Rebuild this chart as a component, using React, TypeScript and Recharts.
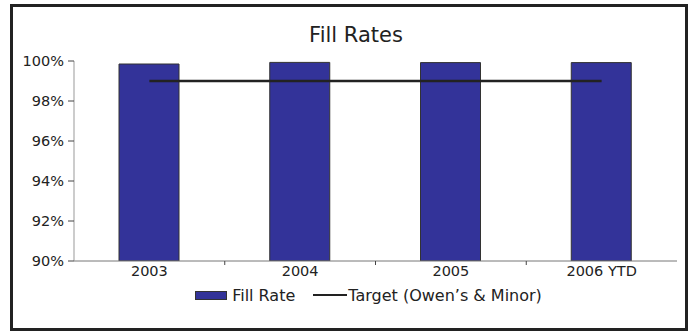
import * as React from "react"
import {
  ComposedChart,
  Bar,
  Line,
  XAxis,
  YAxis,
  Legend,
} from "recharts"

// values, in percent
const years = ["2003", "2004", "2005", "2006 YTD"]
const fillRate = [99.85, 99.93, 99.92, 99.92]
const target = [99.0, 99.0, 99.0, 99.0]
const yTicks = [90, 92, 94, 96, 98, 100]

const data = years.map((year, i) => ({
  year,
  fillRate: fillRate[i],
  target: target[i],
}))

const FONT = "'DejaVu Sans', sans-serif"
const BAR_COLOR = "#333399"
const INK = "#222222"

const CHART_W = 693
const CHART_H = 331
const MARGIN = { top: 61, right: 16, left: 10, bottom: 26 }
const Y_AXIS_W = 64
const BAND = (CHART_W - MARGIN.left - MARGIN.right - Y_AXIS_W) / years.length

// x tick: label at the band centre plus a small tick mark at the band's left edge
const YearTick = (props: any) => {
  const { x, y, payload, index } = props
  return (
    <g>
      {index > 0 && (
        <line x1={x - BAND / 2} x2={x - BAND / 2} y1={y} y2={y + 4} stroke="#444" strokeWidth={1} />
      )}
      <text x={x} y={y + 15} textAnchor="middle" fill={INK} fontSize={14.5} fontFamily={FONT}>
        {payload.value}
      </text>
    </g>
  )
}

const renderLegend = (props: any) => {
  const { payload = [] } = props
  return (
    <div
      style={{
        display: "flex",
        justifyContent: "center",
        alignItems: "center",
        height: 20,
        fontFamily: FONT,
        fontSize: 16,
        color: INK,
        paddingLeft: 50,
      }}
    >
      {payload.map((entry: any, i: number) => (
        <div key={i} style={{ display: "flex", alignItems: "center", marginLeft: i > 0 ? 18 : 0 }}>
          {entry.type === "line" ? (
            <span style={{ width: 34, height: 2, background: INK, marginRight: 1 }} />
          ) : (
            <span
              style={{
                width: 30,
                height: 7,
                background: BAR_COLOR,
                border: "1px solid #333",
                marginRight: 5,
              }}
            />
          )}
          <span>{entry.value}</span>
        </div>
      ))}
    </div>
  )
}

export default function App() {
  return (
    <div style={{ position: "absolute", left: 0, top: 0, width: CHART_W, height: CHART_H, background: "#fff" }}>
      <div
        style={{
          position: "absolute",
          left: 10,
          top: 4,
          width: 678,
          height: 327,
          border: `3px solid ${INK}`,
          boxSizing: "border-box",
        }}
      />
      <div
        style={{
          position: "absolute",
          left: 0,
          top: 23,
          width: 712,
          textAlign: "center",
          fontFamily: FONT,
          fontSize: 21,
          color: INK,
        }}
      >
        Fill Rates
      </div>
      <div style={{ position: "absolute", left: 0, top: 0 }}>
        <ComposedChart width={CHART_W} height={CHART_H} data={data} margin={MARGIN}>
          <XAxis
            dataKey="year"
            height={24}
            axisLine={{ stroke: "#777" }}
            tickLine={false}
            tickSize={0}
            tickMargin={0}
            tick={<YearTick />}
            interval={0}
          />
          <YAxis
            width={Y_AXIS_W}
            domain={[90, 100]}
            ticks={yTicks}
            allowDataOverflow
            axisLine={{ stroke: "#999" }}
            tickLine={{ stroke: "#444" }}
            tickSize={6}
            tickMargin={4}
            tick={{ fill: INK, fontSize: 14.5, fontFamily: FONT }}
            tickFormatter={(v: number) => `${v}%`}
          />
          <Legend verticalAlign="bottom" content={renderLegend} />
          <Bar
            dataKey="fillRate"
            name="Fill Rate"
            fill={BAR_COLOR}
            stroke="#333"
            strokeWidth={1}
            barSize={60}
            legendType="rect"
            isAnimationActive={false}
          />
          <Line
            dataKey="target"
            name="Target (Owen’s & Minor)"
            stroke={INK}
            strokeWidth={2.5}
            dot={false}
            legendType="line"
            isAnimationActive={false}
          />
        </ComposedChart>
      </div>
    </div>
  )
}
